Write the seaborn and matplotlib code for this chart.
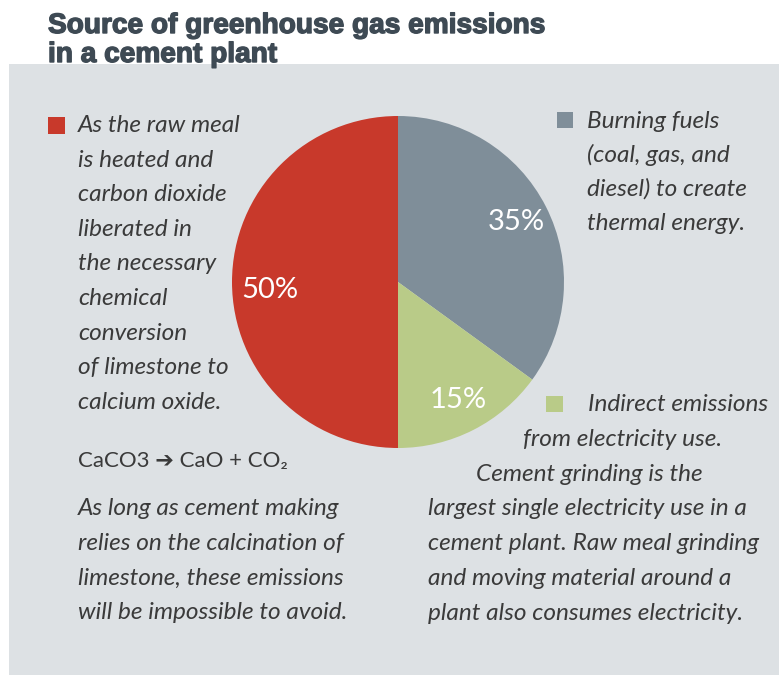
import matplotlib
matplotlib.use("Agg")
import matplotlib.pyplot as plt
import matplotlib.patheffects as pe
import seaborn as sns
from matplotlib.patches import Rectangle

# ---- data ----
categories = ["Burning fuels", "Indirect emissions", "Calcination"]
shares = [35, 15, 50]
colors = ["#7f8e99", "#b9cb88", "#c8392b"]

title_lines = ["Source of greenhouse gas emissions", "in a cement plant"]
calc_lines = ["As the raw meal", "is heated and", "carbon dioxide", "liberated in",
              "the necessary", "chemical", "conversion", "of limestone to",
              "calcium oxide."]
calc_note = ["As long as cement making", "relies on the calcination of",
             "limestone, these emissions", "will be impossible to avoid."]
fuel_lines = ["Burning fuels", "(coal, gas, and", "diesel) to create", "thermal energy."]
elec_lines = ["Indirect emissions", "from electricity use.", "Cement grinding is the",
              "largest single electricity use in a", "cement plant. Raw meal grinding",
              "and moving material around a", "plant also consumes electricity."]
formula = "CaCO3 \u2794 CaO + CO\u2082"

sns.set_theme(style="white")
plt.rcParams["font.family"] = ["Lato", "DejaVu Sans"]

W, H = 779, 675
fig = plt.figure(figsize=(W / 100, H / 100), dpi=100)
fig.patch.set_facecolor("white")

def px(x, y):
    return x / W, 1 - y / H

# background panel
fig.patches.append(Rectangle(px(9, H), (W - 9) / W, (H - 64) / H,
                             transform=fig.transFigure, facecolor="#dde1e4",
                             edgecolor="none", zorder=-5))

# title
tcol = "#3e4a54"
for line, yb in zip(title_lines, [33, 62]):
    fig.text(*px(48, yb), line, fontsize=20.2, fontweight="bold", color=tcol,
             family=["Liberation Sans", "DejaVu Sans"],
             va="baseline", ha="left",
             path_effects=[pe.withStroke(linewidth=1.0, foreground=tcol)])

# pie
cx, cy, r = 398, 282, 166
ax = fig.add_axes([(cx - r) / W, (H - cy - r) / H, 2 * r / W, 2 * r / H], zorder=2)
ax.patch.set_alpha(0)
wedges, texts, autotexts = ax.pie(shares, colors=colors, startangle=90, counterclock=False,
                                  autopct="%d%%", pctdistance=0.8,
                                  wedgeprops=dict(linewidth=0),
                                  textprops=dict(color="white", fontsize=21))
autotexts[2].set_position((-0.77, -0.05))
ax.set_aspect("equal")
ax.set_xlim(-1, 1)
ax.set_ylim(-1, 1)
ax.axis("off")

txtcol = "#3a3a3a"
fs = 17.6
ital = dict(fontsize=fs, style="italic", color=txtcol, va="baseline", ha="left")

# left legend
fig.patches.append(Rectangle(px(48, 134), 17 / W, 17 / H, transform=fig.transFigure,
                             facecolor=colors[2], edgecolor="none", zorder=1))
for i, line in enumerate(calc_lines):
    fig.text(*px(78, 132 + i * 34.6), line, **ital)

fig.text(*px(78, 467), formula, fontsize=16, color=txtcol, va="baseline", ha="left")
for i, line in enumerate(calc_note):
    fig.text(*px(78, 515 + i * 34.7), line, **ital)

# right legend (fuels)
fig.patches.append(Rectangle(px(557, 128), 16 / W, 16 / H, transform=fig.transFigure,
                             facecolor=colors[0], edgecolor="none", zorder=1))
for i, line in enumerate(fuel_lines):
    fig.text(*px(587, 128 + i * 34), line, **ital)

# electricity legend
fig.patches.append(Rectangle(px(546, 412), 17 / W, 16 / H, transform=fig.transFigure,
                             facecolor=colors[1], edgecolor="none", zorder=1))
elec_x = [588, 523, 476, 428, 428, 428, 428]
for i, (line, x) in enumerate(zip(elec_lines, elec_x)):
    fig.text(*px(x, 411 + i * 34.8), line, **ital)

fig.savefig("out.png", dpi=100)
